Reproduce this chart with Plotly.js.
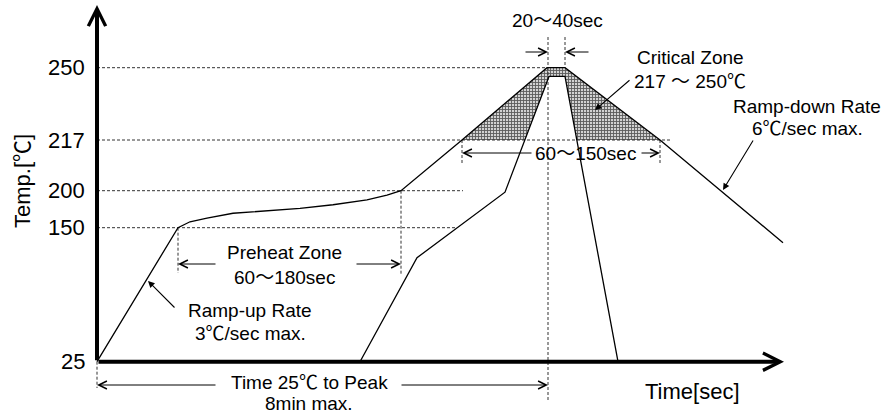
<!DOCTYPE html>
<html>
<head>
<meta charset="utf-8">
<script src="https://cdn.plot.ly/plotly-3.0.1.min.js"></script>
<style>html,body{margin:0;padding:0;background:#fff;}#chart{width:888px;height:416px;}</style>
</head>
<body>
<div id="chart"></div>
<script>
// ---- data (time in s, temperature in °C) ----
const tickTemps = [25, 150, 200, 217, 250];
const tickLabels = ['25', '150', '200', '217', '250'];
// schematic (non-linear) axis positions of the temperature ticks
const tickPos = [0, 134, 171, 221.7, 294];

const outerTime = [0, 81, 93, 110, 136, 170, 203, 236, 270, 290, 304, 365, 450, 468, 563, 686];
const outerTemp = [25, 150, 158, 163, 169.5, 173, 176, 181, 187.5, 194, 200, 217, 250, 250, 217, 136];

const innerTime = [263, 320, 408, 452, 468, 521];
const innerTemp = [25, 122, 198, 246, 246, 25];

// horizontal reference lines: temperature, end time
const refTemps = [250, 217, 200, 150];
const refEnds = [450, 574, 366, 358];

// ---- schematic temperature scale ----
function P(t) {
  const n = tickTemps.length;
  if (t <= tickTemps[1]) {
    const s = (tickPos[1] - tickPos[0]) / (tickTemps[1] - tickTemps[0]);
    return tickPos[0] + (t - tickTemps[0]) * s;
  }
  for (let i = 1; i < n - 1; i++) {
    if (t <= tickTemps[i + 1]) {
      const s = (tickPos[i + 1] - tickPos[i]) / (tickTemps[i + 1] - tickTemps[i]);
      return tickPos[i] + (t - tickTemps[i]) * s;
    }
  }
  const s = (tickPos[n - 1] - tickPos[n - 2]) / (tickTemps[n - 1] - tickTemps[n - 2]);
  return tickPos[n - 1] + (t - tickTemps[n - 1]) * s;
}

const outerY = outerTemp.map(P);
const innerY = innerTemp.map(P);
const y217 = P(217);

// crossing of a polyline with level yl (in axis units)
function crossings(xs, ys, yl) {
  const out = [];
  for (let i = 0; i < xs.length - 1; i++) {
    const a = ys[i] - yl, b = ys[i + 1] - yl;
    if ((a < 0 && b > 0) || (a > 0 && b < 0)) {
      const f = a / (a - b);
      out.push(xs[i] + f * (xs[i + 1] - xs[i]));
    }
  }
  return out;
}
const innerCross = crossings(innerTime, innerY, y217);

// critical zone polygon (between outer and inner curves, above 217)
const zx = [], zy = [];
for (let i = 0; i < outerTime.length; i++) {
  if (outerTemp[i] >= 217) { zx.push(outerTime[i]); zy.push(outerY[i]); }
}
zx.push(innerCross[1]); zy.push(y217);
for (let i = innerTime.length - 1; i >= 0; i--) {
  if (innerY[i] > y217) { zx.push(innerTime[i]); zy.push(innerY[i]); }
}
zx.push(innerCross[0]); zy.push(y217);
zx.push(zx[0]); zy.push(zy[0]);

const FONT = 'Liberation Sans, Arial, Noto Sans CJK JP, sans-serif';

const traces = [];
traces.push({x: zx, y: zy, mode: 'lines', fill: 'toself', line: {width: 0},
  fillcolor: 'rgba(0,0,0,0)',
  fillpattern: {shape: '+', size: 3, solidity: 0.5, fgcolor: '#5a5a5a', bgcolor: '#d2d2d2'},
  hoverinfo: 'skip'});

// dashed reference lines (horizontal)
const hx = [], hy = [];
refTemps.forEach((t, i) => { hx.push(0, refEnds[i], null); hy.push(P(t), P(t), null); });
// dashed vertical guides (layout positions in axis units)
const vGuides = [
  [81, P(150), 88.7], [304, P(200), 86.7], [365, y217, 198.7], [563, y217, 198.7],
  [451, 324.7, -38.3], [468, 324.7, P(250)], [0, 0, -26.3]
];
vGuides.forEach(g => { hx.push(g[0], g[0], null); hy.push(g[1], g[2], null); });
traces.push({x: hx, y: hy, mode: 'lines', line: {color: '#333', width: 1, dash: '3px,2px'}, hoverinfo: 'skip'});

traces.push({x: outerTime, y: outerY, mode: 'lines', line: {color: '#000', width: 1.3}, hoverinfo: 'skip'});
traces.push({x: innerTime, y: innerY, mode: 'lines', line: {color: '#000', width: 1.3}, hoverinfo: 'skip'});

const ann = [];
function arrow(x1, y1, x2, y2, head, w, size) {
  ann.push({x: x2, y: y2, ax: x1, ay: y1, xref: 'x', yref: 'y', axref: 'x', ayref: 'y',
    text: '', showarrow: true, arrowhead: head, arrowwidth: w, arrowsize: size,
    arrowcolor: '#000', standoff: 0, startstandoff: 0});
}
function label(x, y, txt, size, extra) {
  ann.push(Object.assign({x: x, y: y, xref: 'x', yref: 'y', text: txt, showarrow: false,
    xanchor: 'center', yanchor: 'middle', font: {family: FONT, size: size, color: '#000'}}, extra || {}));
}

// axes with arrow heads
arrow(0, 0, 687, 0, 5, 4, 0.85);
arrow(0, 0, 0, 356.7, 5, 4, 0.85);

// dimension arrows
arrow(427, 309.7, 451, 309.7, 5, 1, 1.6);
arrow(493, 309.7, 468, 309.7, 5, 1, 1.6);
arrow(436, 208.7, 365, 208.7, 5, 1, 1.6);
arrow(543, 208.7, 563, 208.7, 5, 1, 1.6);
arrow(120, 97.7, 81, 97.7, 5, 1, 1.6);
arrow(258, 97.7, 304, 97.7, 5, 1, 1.6);
arrow(120, -23.3, 0, -23.3, 5, 1, 1.6);
arrow(303, -23.3, 451, -23.3, 5, 1, 1.6);

// pointer arrows
arrow(79, 52.7, 51, 80.7, 2, 1.1, 1.2);
arrow(534, 282.7, 498, 251.7, 2, 1.1, 1.2);
arrow(657, 222.7, 626, 171.7, 2, 1.1, 1.2);

// texts
label(460, 341.7, '20～40sec', 19);
label(488, 208.7, '60～150sec', 19);
label(187, 109.7, 'Preheat Zone', 19);
label(187, 84.7, '60～180sec', 19);
label(212, -20.3, 'Time 25℃ to Peak', 19);
label(212, -41.3, '8min max.', 19);
label(153, 51.7, 'Ramp-up Rate', 19);
label(153, 28.7, '3℃/sec max.', 19);
label(593, 304.7, 'Critical Zone', 19);
label(593, 280.7, '217 ～ 250℃', 19);
label(710, 255.7, 'Ramp-down Rate', 19);
label(710, 233.7, '6℃/sec max.', 19);
label(595, -29.3, 'Time[sec]', 22);
label(-75, 180.7, 'Temp.[℃]', 22, {textangle: -90});
tickTemps.forEach((t, i) => label(-10, tickPos[i], tickLabels[i], 22, {xanchor: 'right'}));

const layout = {
  width: 888, height: 416,
  margin: {l: 0, r: 0, t: 0, b: 0},
  paper_bgcolor: '#fff', plot_bgcolor: '#fff',
  showlegend: false,
  xaxis: {range: [-97, 791], visible: false, fixedrange: true},
  yaxis: {range: [-54.3, 361.7], visible: false, fixedrange: true},
  annotations: ann
};
Plotly.newPlot('chart', traces, layout, {staticPlot: true, displayModeBar: false});
</script>
</body>
</html>
